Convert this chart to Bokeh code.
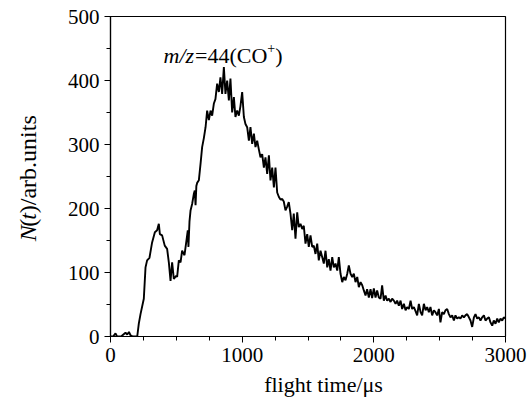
import math
from bokeh.plotting import figure
from bokeh.models import Label, Range1d, SingleIntervalTicker, ColumnDataSource
from bokeh.layouts import row, column
from bokeh.embed import file_html
from bokeh.resources import INLINE

# ---- data ----
time_us = [0, 20, 38, 50, 80, 114, 127, 140, 152, 170, 203, 215, 228, 253, 266, 278, 296, 316, 337, 354,
           367, 375, 392, 412, 430, 443, 456, 468, 481, 499, 506, 519, 532, 544, 562, 575, 587, 592, 600, 608,
           620, 625, 633, 640, 646, 652, 658, 671, 684, 696, 709, 722, 734, 747, 760, 772, 785, 797, 810, 823,
           835, 848, 861, 873, 886, 899, 911, 924, 937, 949, 962, 975, 987, 1000, 1013, 1025, 1038, 1051, 1063, 1076,
           1089, 1101, 1114, 1127, 1139, 1152, 1165, 1177, 1190, 1203, 1215, 1228, 1241, 1253, 1266, 1279, 1291, 1304, 1316, 1329,
           1342, 1354, 1367, 1380, 1392, 1405, 1418, 1430, 1443, 1456, 1468, 1481, 1494, 1506, 1519, 1532, 1544, 1557, 1570, 1582,
           1595, 1608, 1620, 1633, 1646, 1658, 1671, 1684, 1696, 1709, 1722, 1734, 1747, 1760, 1772, 1785, 1798, 1810, 1823, 1836,
           1848, 1861, 1874, 1886, 1899, 1912, 1924, 1937, 1949, 1962, 1975, 1987, 2000, 2013, 2025, 2038, 2051, 2063, 2076, 2089,
           2101, 2114, 2127, 2139, 2152, 2165, 2177, 2190, 2203, 2215, 2228, 2241, 2253, 2266, 2279, 2291, 2304, 2316, 2329, 2342,
           2355, 2367, 2380, 2393, 2405, 2418, 2430, 2443, 2456, 2468, 2481, 2494, 2506, 2519, 2532, 2544, 2557, 2570, 2582, 2595,
           2608, 2620, 2633, 2646, 2658, 2671, 2684, 2696, 2709, 2722, 2734, 2747, 2760, 2772, 2785, 2798, 2810, 2823, 2836, 2848,
           2861, 2874, 2886, 2899, 2911, 2924, 2937, 2949, 2962, 2975, 2987, 3000]
counts = [0, 0, 5, 0, 0, 6, 3, 7, 2, 0, 0, 20, 35, 59, 108, 119, 123, 147, 163, 166,
          176, 160, 158, 142, 137, 116, 87, 116, 90, 95, 93, 119, 116, 134, 127, 147, 166, 140, 180, 197,
          207, 213, 223, 228, 205, 235, 240, 244, 270, 296, 310, 327, 353, 338, 353, 345, 364, 371, 395, 382,
          405, 379, 421, 379, 400, 369, 403, 350, 374, 343, 353, 345, 360, 382, 343, 332, 327, 306, 327, 301,
          317, 296, 306, 292, 280, 285, 264, 280, 254, 283, 244, 264, 233, 264, 225, 218, 214, 215, 211, 197,
          203, 210, 192, 166, 192, 153, 194, 171, 176, 168, 173, 145, 160, 140, 158, 140, 142, 129, 145, 119,
          134, 124, 114, 134, 108, 121, 103, 124, 108, 114, 103, 124, 98, 85, 93, 88, 98, 111, 98, 93,
          98, 85, 93, 77, 85, 80, 72, 64, 74, 61, 74, 60, 75, 61, 72, 61, 59, 80, 56, 64,
          56, 59, 54, 59, 56, 51, 56, 48, 56, 43, 51, 41, 46, 43, 56, 43, 46, 40, 33, 51,
          38, 33, 51, 41, 46, 38, 46, 33, 41, 38, 33, 43, 22, 38, 35, 41, 43, 35, 30, 33,
          25, 33, 28, 30, 28, 33, 30, 33, 35, 30, 25, 15, 30, 35, 28, 30, 25, 30, 33, 25,
          28, 30, 22, 17, 25, 20, 28, 22, 28, 25, 30, 28]
x_ticks = [0, 1000, 2000, 3000]
y_ticks = [0, 100, 200, 300, 400, 500]
x_label = "flight time/\u03bcs"
y_label_parts = [("N", "italic"), ("(", "normal"), ("t", "italic"), (")/arb.units", "normal")]
note_parts = [("m/z", "italic"), ("=44(CO", "normal"), ("+", "sup"), (")", "normal")]

# ---- layout geometry (page pixels) ----
W, H = 531, 398
FL, FR, FT, FB = 110, 505, 16, 336        # frame edges on the page
YL_W = 60                                   # left strip holding the y label
XL_H = 25                                   # bottom strip holding the x label
MAIN_W, MAIN_H = W - YL_W, H - XL_H
FONT = "Liberation Serif"

def blank(w, h):
    f = figure(width=w, height=h, output_backend="svg", toolbar_location=None,
               x_range=Range1d(0, w), y_range=Range1d(0, h),
               min_border=0, min_border_left=0, min_border_right=0, min_border_top=0, min_border_bottom=0)
    f.axis.visible = False
    f.grid.visible = False
    f.outline_line_color = None
    f.background_fill_color = "white"
    f.border_fill_color = "white"
    return f

p = figure(width=MAIN_W, height=MAIN_H, output_backend="svg", toolbar_location=None,
           x_range=Range1d(x_ticks[0], x_ticks[-1]), y_range=Range1d(y_ticks[0], y_ticks[-1]),
           min_border_left=FL - YL_W, min_border_right=W - FR, min_border_top=FT,
           min_border_bottom=MAIN_H - FB)
p.grid.visible = False
p.outline_line_color = "black"
p.outline_line_width = 1.2
p.background_fill_color = "white"
p.border_fill_color = "white"

src = ColumnDataSource(dict(t=time_us, n=counts))
p.line("t", "n", source=src, line_color="black", line_width=1.9)

p.xaxis.ticker = SingleIntervalTicker(interval=1000, num_minor_ticks=4)
p.yaxis.ticker = SingleIntervalTicker(interval=100, num_minor_ticks=2)
for ax in (p.xaxis[0], p.yaxis[0]):
    ax.axis_line_color = "black"
    ax.axis_line_width = 1.2
    ax.major_tick_line_color = "black"
    ax.minor_tick_line_color = "black"
    ax.major_tick_in = 0
    ax.major_tick_out = 6
    ax.minor_tick_in = 0
    ax.minor_tick_out = 4
    ax.major_label_text_font = FONT
    ax.major_label_text_font_size = "21px"
    ax.major_label_text_color = "black"
    ax.major_label_standoff = 5
    ax.axis_label = None

# rough Times metrics (em units)
REG = {"N": .722, "(": .333, ")": .333, "/": .278, "a": .444, "r": .333, "b": .5, ".": .25, "u": .5,
       "n": .5, "i": .278, "t": .278, "s": .389, "=": .564, "4": .5, "C": .667, "O": .722, "+": .564}
ITA = {"N": .667, "t": .278, "m": .722, "/": .278, "z": .389}
def width(s, style, size):
    tbl = ITA if style == "italic" else REG
    return sum(tbl.get(c, .5) for c in s) * size

# page pixel -> main-plot data
def dx(px):
    return x_ticks[0] + (px - FL) * (x_ticks[-1] - x_ticks[0]) / (FR - FL)
def dy(py):
    return y_ticks[0] + (FB - py) * (y_ticks[-1] - y_ticks[0]) / (FB - FT)

# annotation m/z=44(CO+) inside the frame
nsize = 22
base = 55
px = 163.0
for s, st in note_parts:
    if st == "sup":
        sz = 14
        p.add_layout(Label(x=dx(px), y=dy(base - 8), text=s, text_font=FONT, text_font_size=f"{sz}px",
                           text_align="left", text_baseline="alphabetic", text_color="black"))
        px += width(s, "normal", sz)
    else:
        p.add_layout(Label(x=dx(px), y=dy(base), text=s, text_font=FONT, text_font_size=f"{nsize}px",
                           text_font_style="italic" if st == "italic" else "normal",
                           text_align="left", text_baseline="alphabetic", text_color="black"))
        px += width(s, st, nsize) + (1 if st == "italic" else 0)

# y label strip
yl = blank(YL_W, MAIN_H)
ysize = 24
pos = 262.0
for s, st in y_label_parts:
    yl.add_layout(Label(x=27, y=MAIN_H - pos, text=s, text_font=FONT, text_font_size=f"{ysize}px",
                        text_font_style="italic" if st == "italic" else "normal", angle=math.pi / 2,
                        text_align="left", text_baseline="alphabetic", text_color="black"))
    pos -= width(s, st, ysize) + (1 if st == "italic" else 0)

# x label strip
xl = blank(W, XL_H)
xl.add_layout(Label(x=323, y=XL_H - (384 - MAIN_H), text=x_label, text_font=FONT, text_font_size="22px",
                    text_align="center", text_baseline="alphabetic", text_color="black"))

layout = column(row(yl, p, spacing=0), xl, spacing=0)
open("out.html", "w").write(file_html(layout, INLINE))
